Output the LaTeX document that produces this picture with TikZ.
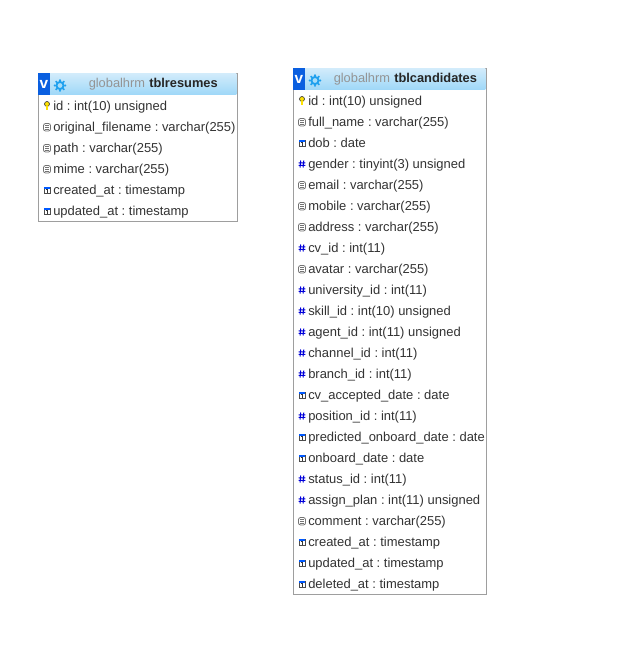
\documentclass[tikz,border=0pt]{standalone}
\usepackage{fontspec}
\setmainfont{Liberation Sans}
\begin{document}
\frenchspacing
\begin{tikzpicture}[x=0.75pt,y=-0.75pt,
  rowtext/.style={anchor=base west,inner sep=0pt,font=\fontsize{9.72pt}{11pt}\selectfont,text=black!80},
  tablebox/.style={draw=black!38,line width=0.75pt,fill=white},
  dbname/.style={anchor=base west,inner sep=0pt,font=\fontsize{9.62pt}{11pt}\selectfont,text=black!42},
  tbname/.style={anchor=base west,inner sep=0pt,font=\bfseries\fontsize{9.62pt}{11pt}\selectfont,text=black!85},
  vmark/.style={inner sep=0pt,font=\bfseries\fontsize{11.5pt}{11pt}\selectfont,text=white},
  keyicon/.pic={
    \draw[black!75,fill=yellow!85!orange,line width=0.5pt] (0,-2) circle[radius=2.5];
    \draw[black!75,line width=2pt] (0,0) -- (0,4);
    \draw[yellow!85!orange,line width=0.9pt] (0,0) -- (0,4);
  },
  texticon/.pic={
    \draw[black!55,line width=0.6pt,rounded corners=1.6pt] (-3.5,-3.5) rectangle (3.5,4);
    \draw[black!55,line width=0.5pt] (-2,-1.3) -- (2,-1.3) (-2,0.5) -- (2,0.5) (-2,2.3) -- (2,2.3);
  },
  numicon/.pic={
    \draw[blue!85!black,line width=0.75pt] (-1.3,-3.5) -- (-2,3.5) (1.8,-3.5) -- (1.1,3.5)
      (-3.3,-1.2) -- (3.3,-1.2) (-3.3,1.4) -- (3.3,1.4);
  },
  dateicon/.pic={
    \draw[black!70,line width=0.5pt,fill=white] (-3,-3) rectangle (3,3.5);
    \fill[blue!65!cyan] (-3.3,-3.5) rectangle (3.3,-1.2);
    \draw[black!80,line width=0.5pt] (-1.4,-0.2) -- (1.4,-0.2) (0,-0.2) -- (0,2.6);
  },
  gearicon/.pic={
    \foreach \a in {0,45,...,315} \fill[gearblue] (\a:5.2) circle[radius=1.2];
    \fill[gearblue] (0,0) circle[radius=4.6];
    \fill[gearcore] (0,0) circle[radius=2.4];
  }]
\definecolor{headtop}{HTML}{D3ECFB}
\definecolor{headbot}{HTML}{9FD8F8}
\definecolor{vblue}{HTML}{0A5FE0}
\definecolor{gearblue}{HTML}{1FA0EE}
\definecolor{gearcore}{HTML}{A8DCF8}
\useasboundingbox (0,0) rectangle (617,647);
\fill[white] (0,0) rectangle (617,647);

% ---------- tblresumes
\node[tablebox,minimum width=199pt*0.75,minimum height=148pt*0.75,inner sep=0pt,anchor=north west] (resumes) at (37.6,72.6) {};
\shade[top color=headtop,bottom color=headbot] (38,73) rectangle (236.4,94.5);
\fill[vblue] (38.2,73) rectangle (49.5,94.5);
\node[vmark] (resumesv) at (44,84.5) {v};
\pic at (60,85.5) {gearicon};
\node[dbname] (resumesdb) at (88.5,87) {globalhrm};
\node[tbname] (resumestb) at (149,87) {tblresumes};
\foreach \i/\ic/\t in {
  0/keyicon/{id : int(10) unsigned},
  1/texticon/{original\_filename : varchar(255)},
  2/texticon/{path : varchar(255)},
  3/texticon/{mime : varchar(255)},
  4/dateicon/{created\_at : timestamp},
  5/dateicon/{updated\_at : timestamp}}{
  \pic at (47,{106+21*\i}) {\ic};
  \node[rowtext] (res\i) at (53,{110+21*\i}) {\t};
}

% ---------- tblcandidates
\node[tablebox,minimum width=193pt*0.75,minimum height=526pt*0.75,inner sep=0pt,anchor=north west] (candidates) at (292.6,67.6) {};
\shade[top color=headtop,bottom color=headbot] (293,68) rectangle (485.4,89.5);
\fill[vblue] (293.2,68) rectangle (304.5,89.5);
\node[vmark] (candv) at (299,79.5) {v};
\pic at (315,80.5) {gearicon};
\node[dbname] (canddb) at (333.5,82) {globalhrm};
\node[tbname] (candtb) at (394,82) {tblcandidates};
\foreach \i/\ic/\t in {
  0/keyicon/{id : int(10) unsigned},
  1/texticon/{full\_name : varchar(255)},
  2/dateicon/{dob : date},
  3/numicon/{gender : tinyint(3) unsigned},
  4/texticon/{email : varchar(255)},
  5/texticon/{mobile : varchar(255)},
  6/texticon/{address : varchar(255)},
  7/numicon/{cv\_id : int(11)},
  8/texticon/{avatar : varchar(255)},
  9/numicon/{university\_id : int(11)},
  10/numicon/{skill\_id : int(10) unsigned},
  11/numicon/{agent\_id : int(11) unsigned},
  12/numicon/{channel\_id : int(11)},
  13/numicon/{branch\_id : int(11)},
  14/dateicon/{cv\_accepted\_date : date},
  15/numicon/{position\_id : int(11)},
  16/dateicon/{predicted\_onboard\_date : date},
  17/dateicon/{onboard\_date : date},
  18/numicon/{status\_id : int(11)},
  19/numicon/{assign\_plan : int(11) unsigned},
  20/texticon/{comment : varchar(255)},
  21/dateicon/{created\_at : timestamp},
  22/dateicon/{updated\_at : timestamp},
  23/dateicon/{deleted\_at : timestamp}}{
  \pic at (302,{101+21*\i}) {\ic};
  \node[rowtext] (cand\i) at (308,{105+21*\i}) {\t};
}
\end{tikzpicture}
\end{document}
